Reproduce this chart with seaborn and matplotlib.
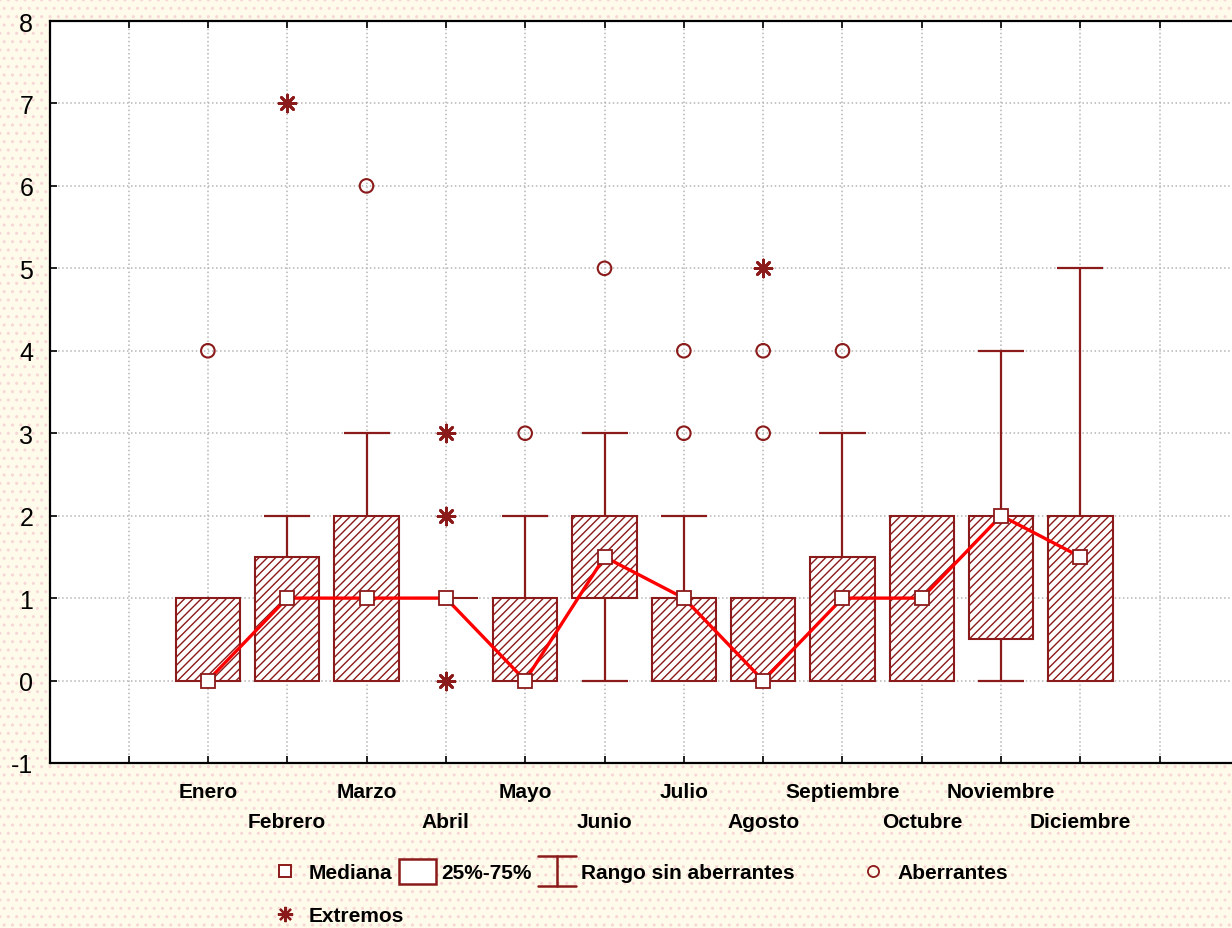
import matplotlib
matplotlib.use("Agg")
import matplotlib.pyplot as plt
from matplotlib.legend_handler import HandlerBase
from matplotlib.lines import Line2D
from matplotlib.patches import Rectangle
import seaborn as sns

meses = ["Enero", "Febrero", "Marzo", "Abril", "Mayo", "Junio", "Julio",
         "Agosto", "Septiembre", "Octubre", "Noviembre", "Diciembre"]
q1 = [0, 0, 0, 1, 0, 1, 0, 0, 0, 0, 0.5, 0]
mediana = [0, 1, 1, 1, 0, 1.5, 1, 0, 1, 1, 2, 1.5]
q3 = [1, 1.5, 2, 1, 1, 2, 1, 1, 1.5, 2, 2, 2]
bigote_min = [0, 0, 0, 1, 0, 0, 0, 0, 0, 0, 0, 0]
bigote_max = [1, 2, 3, 1, 2, 3, 2, 1, 3, 2, 4, 5]
aberrantes = [[4], [], [6], [], [3], [5], [3, 4], [3, 4], [4], [], [], []]
extremos = [[], [7], [], [0, 2, 3], [], [], [], [5], [], [], [], []]

ROJO_OSC = "#8B1A1A"
ROJO = "#FF0000"
FONDO = "#FFFBEA"

sns.set_style("white")
plt.rcParams["font.family"] = ["Liberation Sans", "DejaVu Sans"]
plt.rcParams["text.color"] = "black"
plt.rcParams["hatch.linewidth"] = 1.0

fig = plt.figure(figsize=(12.32, 9.29), dpi=100)
fig.patch.set_facecolor(FONDO)
fig.patch.set_edgecolor("#F7D6D6")
fig.patch.set_hatch("..")
fig.patch.set_linewidth(0)

ax = fig.add_axes([50 / 1232, 1 - 764 / 929, 1 - 50 / 1232, (764 - 22) / 929])
ax.set_facecolor("white")

pos = list(range(len(meses)))

# cajas 25%-75%
ax.bar(pos, [b - a for a, b in zip(q1, q3)], bottom=q1, width=0.81,
       facecolor="white", edgecolor=ROJO_OSC, hatch="////", linewidth=1.5, zorder=2)

# bigotes (rango sin aberrantes)
for x, a, b, lo, hi in zip(pos, q1, q3, bigote_min, bigote_max):
    if hi > b:
        ax.vlines(x, b, hi, color=ROJO_OSC, lw=1.6, zorder=2)
        ax.hlines(hi, x - 0.29, x + 0.29, color=ROJO_OSC, lw=1.6, zorder=2)
    if lo < a:
        ax.vlines(x, lo, a, color=ROJO_OSC, lw=1.6, zorder=2)
        ax.hlines(lo, x - 0.29, x + 0.29, color=ROJO_OSC, lw=1.6, zorder=2)

# mediana
sns.lineplot(x=pos, y=mediana, color=ROJO, lw=2.4, marker="s", markersize=10.5,
             markerfacecolor="white", markeredgecolor=ROJO_OSC, markeredgewidth=1.3,
             ax=ax, zorder=4)

ab_x = [p for p, vals in zip(pos, aberrantes) for _ in vals]
ab_y = [v for vals in aberrantes for v in vals]
ex_x = [p for p, vals in zip(pos, extremos) for _ in vals]
ex_y = [v for vals in extremos for v in vals]

sns.scatterplot(x=ab_x, y=ab_y, marker="o", s=95, facecolors="none",
                edgecolor=ROJO_OSC, linewidth=1.5, ax=ax, zorder=5)
sns.scatterplot(x=ex_x, y=ex_y, marker=(8, 2, 0), s=150, color=ROJO_OSC,
                linewidth=2.0, ax=ax, zorder=5)

ax.set_xlim(-1.99, 12.91)
ax.set_ylim(-1, 8)
ax.set_yticks(range(-1, 9))
ax.set_yticklabels([str(v) for v in range(-1, 9)], fontsize=18)

# etiquetas escalonadas: fila superior en ticks mayores, inferior en menores
fila1 = [p for p in pos if p % 2 == 0]
fila2 = [p for p in pos if p % 2 == 1]
mayores = [-1] + fila1 + [12]
ax.set_xticks(mayores)
ax.set_xticklabels([""] + [meses[p] for p in fila1] + [""], fontsize=15, fontweight="bold")
ax.set_xticks(fila2, minor=True)
ax.set_xticklabels([meses[p] for p in fila2], minor=True, fontsize=15, fontweight="bold")
ax.tick_params(which="both", direction="in", length=5, width=1.2, top=True, bottom=True,
               left=True, right=False, colors="black")
ax.tick_params(axis="x", which="major", pad=14)
ax.tick_params(axis="x", which="minor", pad=35)
ax.tick_params(axis="y", pad=12)
ax.grid(True, which="both", linestyle=":", color="#B5B5B5", linewidth=1.1)
ax.set_axisbelow(True)
for lado in ["left", "bottom", "top"]:
    ax.spines[lado].set_color("black")
    ax.spines[lado].set_linewidth(1.6)
    ax.spines[lado].set_visible(True)
ax.spines["right"].set_visible(False)
ax.set_xlabel("")
ax.set_ylabel("")


class CajaHandler(HandlerBase):
    def create_artists(self, legend, orig, xd, yd, w, h, fs, trans):
        r = Rectangle((-xd, -yd - 0.4 * h), w, 1.7 * h, facecolor="white",
                      edgecolor=ROJO_OSC, linewidth=1.8, transform=trans)
        return [r]


class RangoHandler(HandlerBase):
    def create_artists(self, legend, orig, xd, yd, w, h, fs, trans):
        x0, x1 = -xd, -xd + w
        xm = (x0 + x1) / 2
        y0, y1 = -yd - 0.55 * h, -yd + 1.55 * h
        kw = dict(color=ROJO_OSC, linewidth=1.8, transform=trans)
        return [Line2D([x0, x1], [y1, y1], **kw), Line2D([x0, x1], [y0, y0], **kw),
                Line2D([xm, xm], [y0, y1], **kw)]


h_med = Line2D([], [], marker="s", ls="none", markersize=8, markerfacecolor="white",
               markeredgecolor=ROJO_OSC, markeredgewidth=1.4)
h_caja = Rectangle((0, 0), 1, 1)
h_rango = Line2D([], [])
h_ab = Line2D([], [], marker="o", ls="none", markersize=8, markerfacecolor="none",
              markeredgecolor=ROJO_OSC, markeredgewidth=1.3)
h_ex = Line2D([], [], marker=(8, 2, 0), ls="none", markersize=11, color=ROJO_OSC,
              markeredgewidth=1.6)

prop = dict(weight="bold", size=15)
comun = dict(loc="upper left", frameon=False, prop=prop, handlelength=1.8,
             handletextpad=0.25, borderaxespad=0, labelcolor="black")
fig.legend([h_med, h_caja, h_rango], ["Mediana", "25%-75%", "Rango sin aberrantes"],
           handler_map={h_caja: CajaHandler(), h_rango: RangoHandler()},
           ncol=3, bbox_to_anchor=(258 / 1232, 1 - 856 / 929), columnspacing=0.3, **comun)
fig.legend([h_ab], ["Aberrantes"], bbox_to_anchor=(846 / 1232, 1 - 856 / 929), **comun)
fig.legend([h_ex], ["Extremos"], bbox_to_anchor=(258 / 1232, 1 - 899 / 929), **comun)

fig.savefig("out.png", dpi=100, facecolor=fig.get_facecolor())
